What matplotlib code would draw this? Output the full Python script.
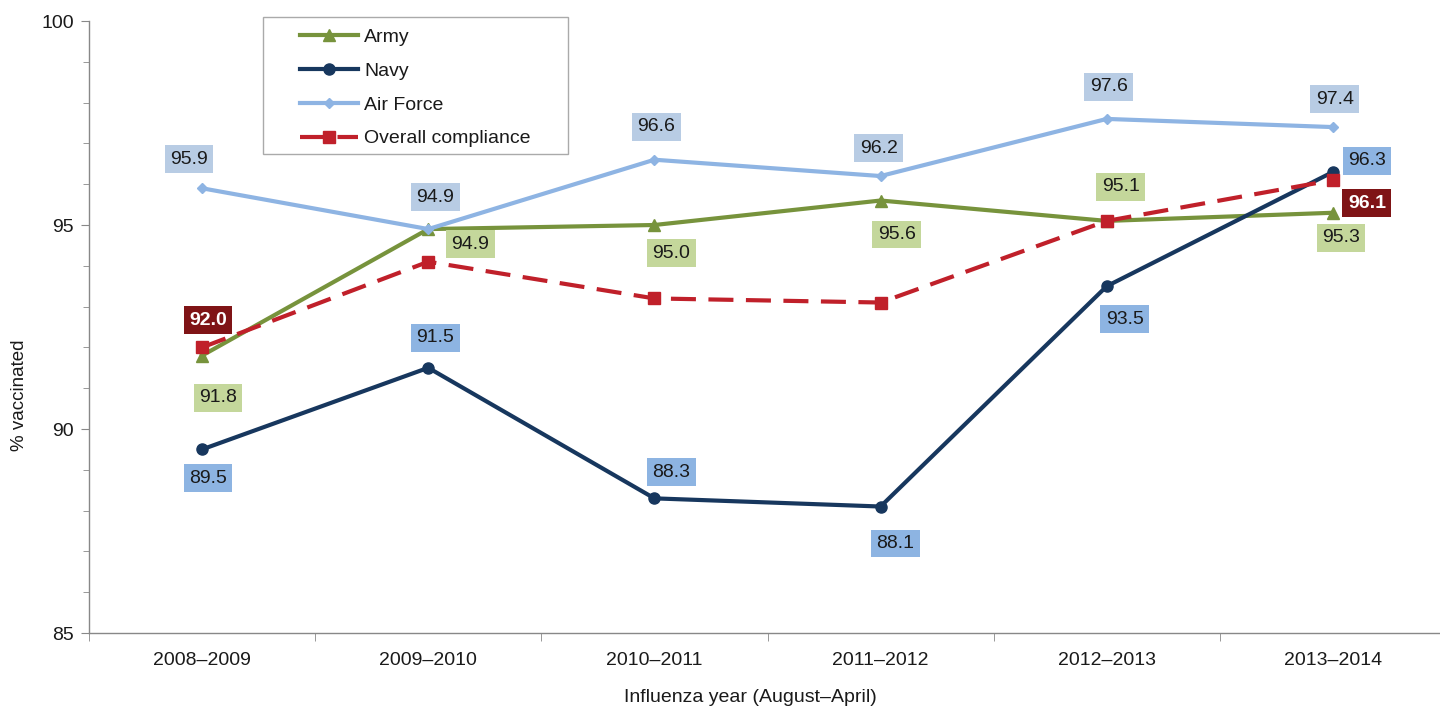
import numpy as np
import matplotlib.pyplot as plt
from matplotlib.lines import Line2D
from matplotlib.patches import Rectangle
from matplotlib.ticker import MultipleLocator

# data
years = ['2008–2009', '2009–2010', '2010–2011', '2011–2012', '2012–2013', '2013–2014']
army = [91.8, 94.9, 95.0, 95.6, 95.1, 95.3]
navy = [89.5, 91.5, 88.3, 88.1, 93.5, 96.3]
airForce = [95.9, 94.9, 96.6, 96.2, 97.6, 97.4]
overall = [92.0, 94.1, 93.2, 93.1, 95.1, 96.1]

# label offsets in pixels (dx, dy; dy positive = down)
armyOff = [(16, 42), (42, 15), (17, 28), (16, 34), (14, -34), (8, 25)]
navyOff = [(6, 29), (7, -30), (17, -26), (15, 37), (18, 33), (34, -11)]
afOff = [(-13, -29), (7, -32), (2, -33), (-2, -28), (2, -32), (2, -28)]
overallOff = {0: (6, -27), 5: (34, 23)}

armyCol = '#77933c'
navyCol = '#17375e'
afCol = '#8eb4e3'
overallCol = '#c0202a'

plt.rcParams['font.family'] = ['Liberation Sans', 'DejaVu Sans']

fig = plt.figure(figsize=(14.4, 7.1), dpi=100)
ax = fig.add_axes([89/1440, 77/710, (1446-89)/1440, (633-21)/710])

x = np.arange(len(years))

ax.plot(x, army, color=armyCol, lw=3, marker='^', ms=8, zorder=3)
ax.plot(x, airForce, color=afCol, lw=3, marker='D', ms=5, zorder=3)
ax.plot(x, navy, color=navyCol, lw=3, marker='o', ms=8, zorder=4)
ax.plot(x, overall, color=overallCol, lw=3, ls=(0, (6, 3)), marker='s', ms=8, zorder=5)


def addLabels(vals, offs, bg, fg='#1a1a1a', bold=False, idx=None):
    for i, v in enumerate(vals):
        if idx is not None and i not in idx:
            continue
        dx, dy = offs[i]
        ax.annotate(f'{v:.1f}', (x[i], v), xytext=(dx, -dy), textcoords='offset pixels',
                    ha='center', va='center', fontsize=14, color=fg,
                    fontweight='bold' if bold else 'normal',
                    bbox=dict(boxstyle='square,pad=0.28', fc=bg, ec='none'), zorder=6)


addLabels(army, armyOff, '#c4d79b')
addLabels(navy, navyOff, '#8db4e2')
addLabels(airForce, afOff, '#b8cce4')
addLabels(overall, overallOff, '#7f1416', fg='white', bold=True, idx=[0, 5])

ax.set_ylim(85, 100)
ax.set_xlim(-0.5, 5.5)
ax.yaxis.set_major_locator(MultipleLocator(5))
ax.yaxis.set_minor_locator(MultipleLocator(1))
ax.set_xticks(x)
ax.set_xticklabels(years)
ax.set_xticks(np.arange(-0.5, 6, 1), minor=True)
ax.tick_params(axis='x', which='major', length=0, pad=14, labelsize=14, colors='#1a1a1a')
ax.tick_params(axis='x', which='minor', length=6, color='#888888')
ax.tick_params(axis='y', which='major', length=6, color='#888888', labelsize=14, labelcolor='#1a1a1a', pad=5)
ax.tick_params(axis='y', which='minor', length=4, color='#888888')

for s in ['top', 'right']:
    ax.spines[s].set_visible(False)
for s in ['left', 'bottom']:
    ax.spines[s].set_color('#888888')
    ax.spines[s].set_linewidth(1)

ax.set_ylabel('% vaccinated', fontsize=13.5, color='#1a1a1a', va='center')
ax.yaxis.set_label_coords((20 - 89) / 1357, (633 - 395) / 612)
fig.text(750/1440, 1-698/710, 'Influenza year (August–April)', ha='center', va='center', fontsize=14, color='#1a1a1a')

handles = [
    Line2D([], [], color=armyCol, lw=3, marker='^', ms=8),
    Line2D([], [], color=navyCol, lw=3, marker='o', ms=8),
    Line2D([], [], color=afCol, lw=3, marker='D', ms=5),
    Line2D([], [], color=overallCol, lw=3, ls=(0, (6, 3)), marker='s', ms=8),
]
leg = fig.legend(handles, ['Army', 'Navy', 'Air Force', 'Overall compliance'],
                 loc='upper left', bbox_to_anchor=(300/1440, 1-28/710), bbox_transform=fig.transFigure,
                 fontsize=14, frameon=False, handlelength=3.0,
                 borderpad=0, labelspacing=0.84, borderaxespad=0, handletextpad=0.3)
for t in leg.get_texts():
    t.set_color('#1a1a1a')

# legend frame drawn by hand (wide side padding)
fig.patches.append(Rectangle((263/1440, 1-154/710), (568-263)/1440, (154-17)/710,
                             transform=fig.transFigure, fill=False, ec='#aaaaaa', lw=1, zorder=10))

fig.savefig('out.png', dpi=100)
